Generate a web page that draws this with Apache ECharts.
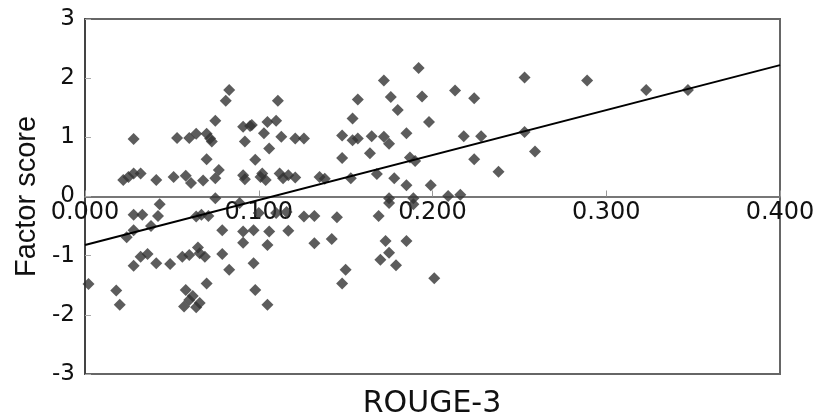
<!DOCTYPE html>
<html>
<head>
<meta charset="utf-8">
<title>Factor score vs ROUGE-3</title>
<script src="https://cdn.jsdelivr.net/npm/echarts@6/dist/echarts.min.js"></script>
<style>
  html, body { margin: 0; padding: 0; background: #fff; }
  #chart { width: 825px; height: 419px; }
</style>
</head>
<body>
<div id="chart"></div>
<script>
// ROUGE-3 score of each summary (x) and its factor score (y)
const rougeScores = [
  0.083, 0.081, 0.075, 0.028, 0.053, 0.060, 0.064, 0.070, 0.072, 0.073,
  0.091, 0.095, 0.092, 0.098, 0.070, 0.022, 0.025, 0.028, 0.032, 0.041,
  0.051, 0.058, 0.061, 0.068, 0.075, 0.077, 0.091, 0.092, 0.101, 0.075,
  0.089, 0.192, 0.172, 0.157, 0.176, 0.194, 0.180, 0.111, 0.096, 0.105,
  0.110, 0.154, 0.103, 0.113, 0.121, 0.126, 0.148, 0.154, 0.157, 0.165,
  0.172, 0.175, 0.185, 0.198, 0.106, 0.164, 0.148, 0.187, 0.190, 0.102,
  0.104, 0.112, 0.114, 0.117, 0.121, 0.135, 0.138, 0.153, 0.168, 0.178,
  0.185, 0.199, 0.175, 0.189, 0.253, 0.289, 0.213, 0.224, 0.218, 0.228,
  0.253, 0.259, 0.224, 0.238, 0.209, 0.216, 0.323, 0.347, 0.043, 0.028,
  0.033, 0.042, 0.038, 0.028, 0.024, 0.064, 0.067, 0.071, 0.079, 0.091,
  0.091, 0.097, 0.032, 0.036, 0.028, 0.041, 0.049, 0.056, 0.060, 0.065,
  0.066, 0.069, 0.079, 0.083, 0.097, 0.002, 0.018, 0.020, 0.058, 0.070,
  0.060, 0.057, 0.064, 0.062, 0.066, 0.098, 0.100, 0.110, 0.116, 0.106,
  0.117, 0.105, 0.132, 0.126, 0.132, 0.145, 0.169, 0.142, 0.173, 0.185,
  0.175, 0.170, 0.179, 0.150, 0.148, 0.105, 0.201, 0.175, 0.189
];
const factorScores = [
  1.80, 1.62, 1.28, 0.97, 0.99, 0.99, 1.06, 1.06, 0.98, 0.93,
  1.18, 1.19, 0.93, 0.62, 0.63, 0.28, 0.33, 0.39, 0.39, 0.28,
  0.33, 0.35, 0.23, 0.27, 0.31, 0.45, 0.36, 0.29, 0.33, -0.03,
  -0.11, 2.17, 1.96, 1.64, 1.68, 1.69, 1.46, 1.62, 1.21, 1.26,
  1.28, 1.32, 1.07, 1.01, 0.98, 0.98, 1.03, 0.95, 0.98, 1.02,
  1.01, 0.89, 1.07, 1.26, 0.81, 0.73, 0.65, 0.66, 0.60, 0.39,
  0.28, 0.39, 0.31, 0.36, 0.32, 0.33, 0.30, 0.31, 0.38, 0.31,
  0.19, 0.19, -0.03, -0.03, 2.01, 1.96, 1.79, 1.66, 1.02, 1.02,
  1.09, 0.76, 0.63, 0.42, 0.01, 0.03, 1.80, 1.80, -0.13, -0.31,
  -0.31, -0.33, -0.50, -0.57, -0.69, -0.34, -0.31, -0.33, -0.57, -0.59,
  -0.78, -0.57, -1.02, -0.97, -1.17, -1.13, -1.14, -1.02, -0.99, -0.86,
  -0.96, -1.02, -0.97, -1.24, -1.13, -1.48, -1.59, -1.83, -1.58, -1.47,
  -1.75, -1.86, -1.87, -1.68, -1.80, -1.58, -0.28, -0.28, -0.26, -0.59,
  -0.58, -0.82, -0.79, -0.34, -0.33, -0.35, -0.33, -0.72, -0.75, -0.75,
  -0.95, -1.07, -1.16, -1.24, -1.47, -1.83, -1.38, -0.11, -0.13
];

// end points of the fitted line as drawn in the figure
const fitX = [0.0, 0.4];
const fitY = [-0.82, 2.22];

const xTicks = [0, 0.1, 0.2, 0.3, 0.4];
const yMin = -3;
const yMax = 3;

const chart = echarts.init(document.getElementById('chart'));

const tickFont = 'DejaVu Sans';
const gridTop = 19;
const gridBottom = 45;
// x axis sits on y = 0: shift it up from the grid bottom by the height of [yMin, 0]
const gridHeight = 419 - gridTop - gridBottom;
const zeroOffset = -gridHeight * (0 - yMin) / (yMax - yMin);

const option = {
  backgroundColor: '#ffffff',
  animation: false,
  grid: {
    left: 85,
    right: 45,
    top: gridTop,
    bottom: gridBottom,
    show: true,
    borderColor: '#666',
    borderWidth: 2
  },
  graphic: [
    {
      type: 'text',
      x: 432,
      y: 404,
      style: {
        text: 'ROUGE-3',
        fontFamily: tickFont,
        fontSize: 30,
        fill: '#111',
        align: 'center',
        verticalAlign: 'middle'
      }
    }
  ],
  xAxis: {
    type: 'value',
    position: 'bottom',
    offset: zeroOffset,
    min: xTicks[0],
    max: xTicks[xTicks.length - 1],
    interval: 0.1,
    axisLine: { onZero: false, lineStyle: { color: '#777', width: 2 } },
    axisTick: { inside: true, length: 6, lineStyle: { color: '#999' } },
    splitLine: { show: false },
    axisLabel: {
      margin: 4,
      fontFamily: tickFont,
      fontSize: 24,
      color: '#111',
      formatter: (v) => v.toFixed(3)
    }
  },
  yAxis: {
    type: 'value',
    min: yMin,
    max: yMax,
    interval: 1,
    axisLine: { show: true, onZero: false, lineStyle: { color: '#444', width: 2 } },
    axisTick: { show: true, inside: true, length: 6, lineStyle: { color: '#aaa' } },
    splitLine: { show: false },
    axisLabel: { margin: 10, fontFamily: tickFont, fontSize: 23, color: '#111' },
    name: 'Factor score',
    nameLocation: 'middle',
    nameGap: 42,
    nameTextStyle: { fontFamily: 'Liberation Sans', fontSize: 29, color: '#111' }
  },
  series: [
    {
      type: 'scatter',
      symbol: 'diamond',
      symbolSize: 12,
      itemStyle: { color: '#333' },
      data: rougeScores.map((x, i) => [x, factorScores[i]])
    },
    {
      type: 'line',
      showSymbol: false,
      lineStyle: { color: '#000', width: 2 },
      data: fitX.map((x, i) => [x, fitY[i]]),
      z: 3
    }
  ]
};

chart.setOption(option);
window.addEventListener('resize', () => chart.resize());
</script>
</body>
</html>
